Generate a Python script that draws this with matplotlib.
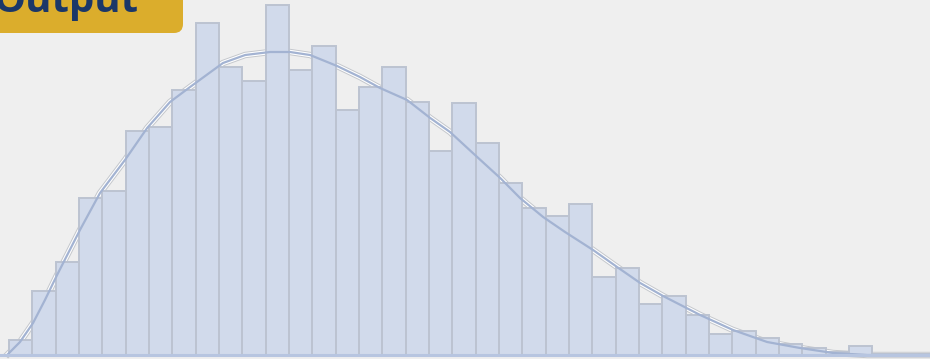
import numpy as np
import matplotlib
matplotlib.use("Agg")
import matplotlib.pyplot as plt
import matplotlib.patheffects as pe
from matplotlib.patches import FancyBboxPatch
from matplotlib.transforms import IdentityTransform

# histogram counts, one per bin (bin i spans [i, i+1])
counts = [15, 64, 93, 157, 164, 224, 228, 265, 332, 288,
          274, 350, 285, 309, 245, 268, 288, 253, 204, 252,
          212, 172, 147, 139, 151, 78, 87, 51, 59, 40,
          21, 24, 17, 11, 7, 3, 9, 1, 1, 1]

# density curve (bin units, count units)
curve_x = [-0.04, 0.47, 1.03, 1.54, 2.06, 3.04, 3.90, 4.97, 5.92, 6.90,
           7.76, 9.17, 10.12, 11.19, 12.04, 12.90, 14.06, 15.04, 15.90, 17.06,
           18.05, 18.90, 19.97, 21.05, 21.90, 22.89, 23.83, 25.03, 26.06, 27.05,
           28.03, 29.62, 31.03, 32.49, 33.90, 35.32, 36.78, 39.48]
curve_y = [1, 13, 32, 55, 80, 125, 162, 195, 227, 253,
           268, 292, 300, 303, 303, 300, 289, 278, 267, 255,
           237, 223, 200, 177, 157, 138, 123, 105, 88, 72,
           59, 40, 25, 13, 7, 2, 0, 0]

title = "Output"

fig = plt.figure(figsize=(9.3, 3.59), dpi=100)
fig.patch.set_facecolor("#efefef")
ax = fig.add_axes([0, 0, 1, 1])
ax.set_facecolor("#efefef")

# curve halo under the bars
ax.plot(curve_x, curve_y, color="white", lw=3.2, zorder=1,
        path_effects=[pe.Stroke(linewidth=4.6, foreground="#c4c7cc"), pe.Normal()])

bins = np.arange(len(counts))
ax.bar(bins, counts, width=1, align="edge", color="#d1daeb",
       edgecolor="#bcc3d1", linewidth=1.4, zorder=2)

# curve core on top
ax.plot(curve_x, curve_y, color="#a3b3d2", lw=1.6, zorder=3)

ax.axhline(0, color="#b7c5e0", lw=2.2, zorder=4)

ax.set_xlim(-0.386, 39.47)
ax.set_ylim(-4, 355)
ax.axis("off")

# title tag, partly cut off at the top-left
box = FancyBboxPatch((-30, 359 - 33), 213, 70,
                     boxstyle="round,pad=0,rounding_size=9",
                     transform=IdentityTransform(), facecolor="#dbad2c",
                     edgecolor="none")
fig.add_artist(box)
fig.text(-6, 359 - 12, title, transform=IdentityTransform(),
         fontsize=29, fontweight="bold", family="Open Sans",
         color="#1b3768", va="baseline", ha="left")

fig.savefig("out.png", dpi=100, facecolor=fig.get_facecolor())
